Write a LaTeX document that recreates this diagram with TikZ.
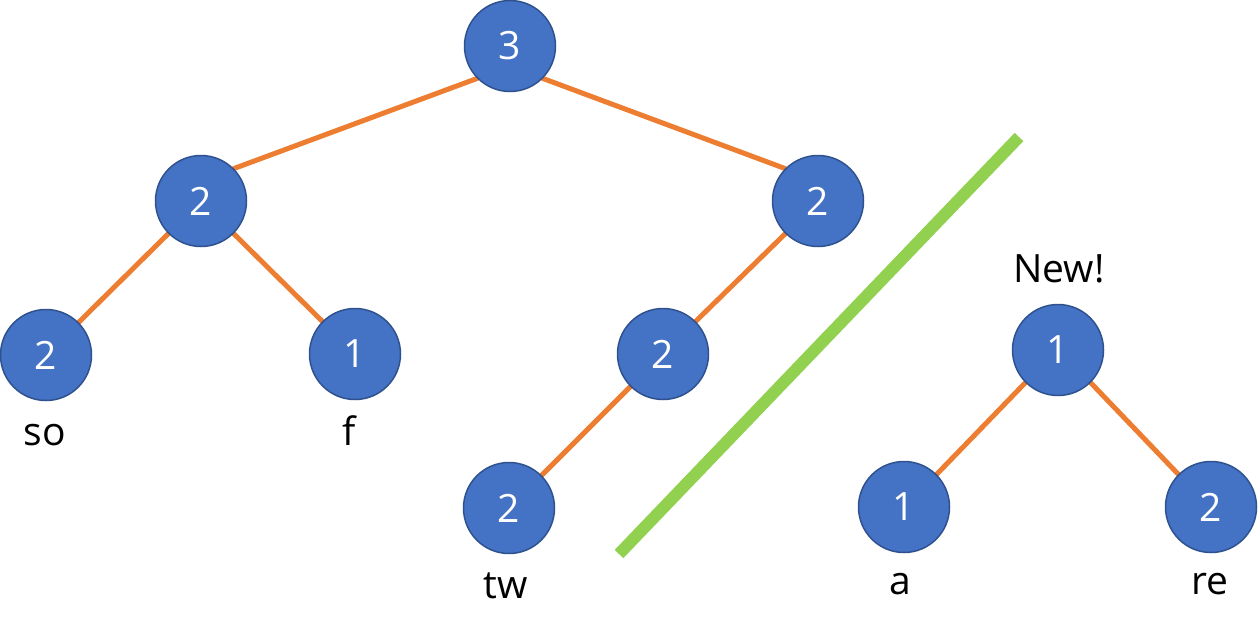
\documentclass[tikz,border=0pt]{standalone}
\usepackage{fontspec}
\setmainfont{Open Sans}
\usetikzlibrary{backgrounds}
\definecolor{nodefill}{HTML}{4472C4}
\definecolor{nodeline}{HTML}{2F528F}
\definecolor{edgeor}{HTML}{ED7D31}
\definecolor{sepgreen}{HTML}{92D050}
\begin{document}
\begin{tikzpicture}[x=1pt,y=-1pt,
  tnode/.style={circle,fill=nodefill,draw=nodeline,line width=1.5pt,minimum size=91pt,inner sep=0pt,outer sep=0pt,text=white,font=\fontsize{39}{47}\selectfont},
  edge/.style={draw=edgeor,line width=5pt},
  lbl/.style={anchor=base,inner sep=0pt,font=\fontsize{39}{47}\selectfont},
  sep/.style={draw=sepgreen,line width=12pt}]
\useasboundingbox (0,0) rectangle (1258,630);
\node[tnode] (r) at (510,46) {3};
\node[tnode] (L) at (201,201) {2};
\node[tnode] (R) at (818,201) {2};
\node[tnode] (LL) at (46,355) {2};
\node[tnode] (LR) at (355,354) {1};
\node[tnode] (RL) at (663,354) {2};
\node[tnode] (RLL) at (509,508) {2};
\node[tnode] (n) at (1058,350) {1};
\node[tnode] (na) at (904,507) {1};
\node[tnode] (nb) at (1211,507) {2};
\begin{scope}[on background layer]
\draw[edge] (r.south west) -- (L.north east);
\draw[edge] (r.south east) -- (R.north west);
\draw[edge] (L.south west) -- (LL.north east);
\draw[edge] (L.south east) -- (LR.north west);
\draw[edge] (R.south west) -- (RL.north east);
\draw[edge] (RL.south west) -- (RLL.north east);
\draw[edge] (n.south west) -- (na.north east);
\draw[edge] (n.south east) -- (nb.north west);
\end{scope}
\node[lbl] (tso) at (45,445) {so};
\node[lbl] (tf) at (349,445) {f};
\node[lbl] (ttw) at (506,598) {tw};
\node[lbl] (ta) at (900,594) {a};
\node[lbl] (tre) at (1210,594) {re};
\node[lbl] (tnew) at (1059,282) {New!};
\coordinate (g1) at (1019,137);
\coordinate (g2) at (619,554);
\draw[sep] (g1) -- (g2);
\end{tikzpicture}
\end{document}
